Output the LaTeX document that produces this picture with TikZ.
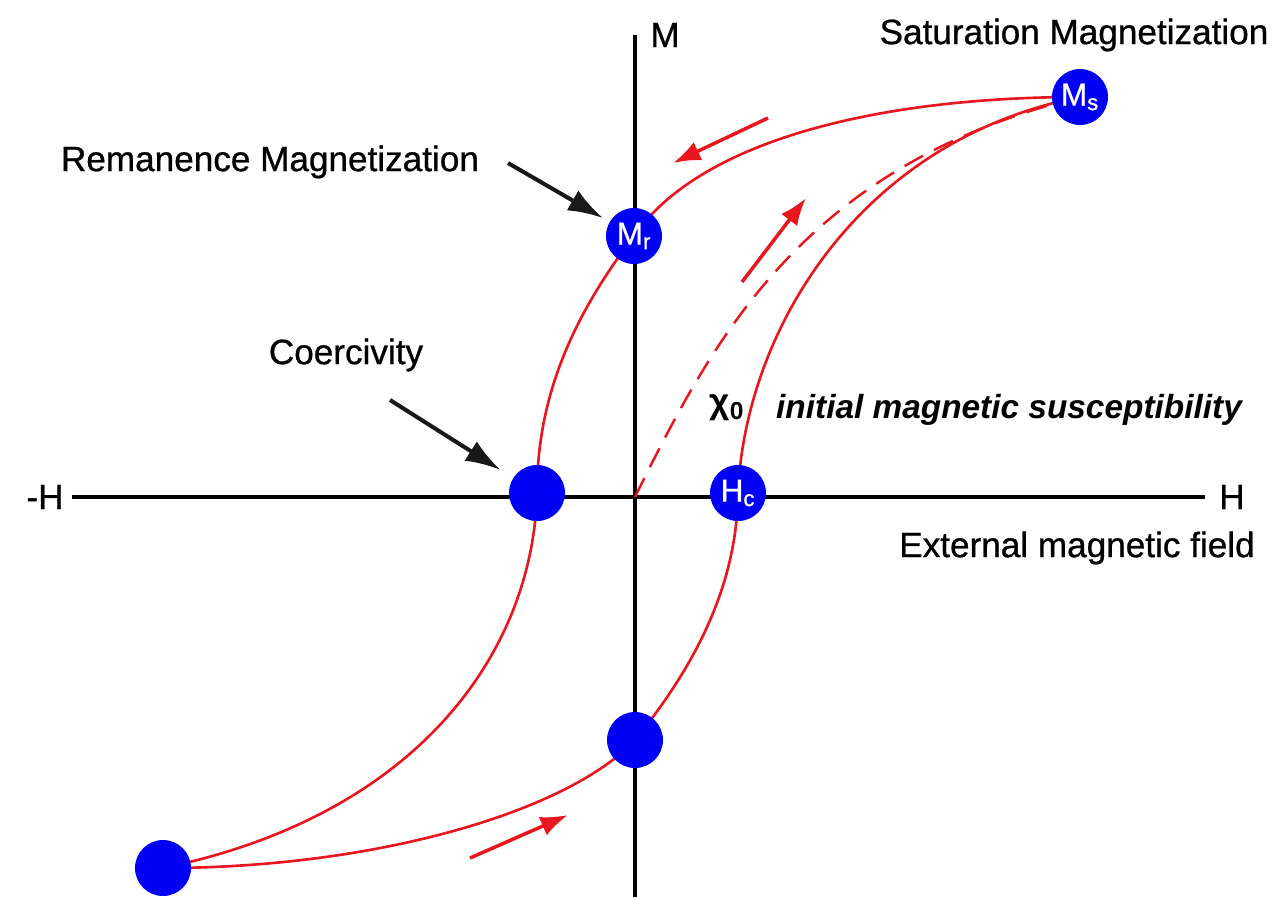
\documentclass[tikz,border=0pt]{standalone}
\usepackage{fontspec}
\setmainfont{Liberation Sans}
\newfontfamily\lblfont[FakeBold=0.8]{Liberation Sans}
\usepackage{tikz}
\usetikzlibrary{arrows.meta,positioning,backgrounds}
\definecolor{hyBlue}{HTML}{0000F5}
\definecolor{hyRed}{HTML}{E8161E}
\tikzset{
  axis/.style={line width=2pt, draw=black},
  loopline/.style={line width=1.5pt, draw=hyRed},
  initline/.style={line width=1.4pt, draw=hyRed, dash pattern=on 12pt off 7pt},
  sweep/.style={-{Latex[length=5.5mm,width=4mm]}, line width=2pt, draw=hyRed},
  pointer/.style={-{Latex[length=7mm,width=4.6mm]}, line width=2.3pt, draw=black!90},
  dot/.style={circle, fill=hyBlue, minimum size=11.2mm, inner sep=0pt, text=white, font=\lblfont\fontsize{18}{20}\selectfont},
  lbl/.style={font=\lblfont\fontsize{20}{24}\selectfont, inner sep=0pt}
}

\begin{document}
\begin{tikzpicture}[x=0.02cm,y=-0.02cm]
  \useasboundingbox (0,0) rectangle (1284,897);
  % axes
  \coordinate (axtop) at (635,35);
  \coordinate (axbot) at (635,897);
  \coordinate (axleft) at (72,497);
  \coordinate (axright) at (1205,497);
  \coordinate (origin) at (635,497);
  % points on the loop
  \node[dot] (Ms) at (1080,97) {M\textsubscript{s}};
  \node[dot] (Mr) at (634,236) {M\textsubscript{r}};
  \node[dot] (Hcneg) at (537,493) {};
  \node[dot] (Hc) at (738,493) {H\textsubscript{c}};
  \node[dot] (Mneg) at (635,740) {};
  \node[dot] (Msneg) at (163,868) {};
  \begin{scope}[on background layer]
    \draw[axis] (axtop) -- (axbot);
    \draw[axis] (axleft) -- (axright);
    \draw[loopline] (Ms.center) .. controls (880,97) and (700,140) .. (Mr.center)
      .. controls (570,320) and (537,400) .. (Hcneg.center)
      .. controls (533,650) and (420,815) .. (Msneg.center);
    \draw[loopline] (Msneg.center) .. controls (380,868) and (570,810) .. (Mneg.center)
      .. controls (700,660) and (737,580) .. (Hc.center)
      .. controls (745,330) and (860,140) .. (Ms.center);
    \draw[initline] (origin) .. controls (715,335) and (805,165) .. (Ms.center);
  \end{scope}
  % labels
  \node[lbl] (Mlbl) at (665,35) {M};
  \node[lbl] (satlbl) at (1074,35) {Saturation Magnetization};
  \node[lbl] (neglbl) at (45,497) {-H};
  \node[lbl] (Hlbl) at (1232,497) {H};
  \node[lbl] (extlbl) at (1077,548) {External magnetic field};
  \node[lbl] (remlbl) at (270,162) {Remanence Magnetization};
  \node[lbl] (coerlbl) at (346,355) {Coercivity};
  \node[lbl, font=\fontsize{20}{24}\selectfont\bfseries] (chilbl) at (727,408) {χ\textsubscript{0}};
  \node[lbl, font=\fontsize{19}{24}\selectfont\bfseries\itshape] (suslbl) at (1009,410) {initial magnetic susceptibility};
  % pointers
  \coordinate (remtail) at (508,163);
  \coordinate (coertail) at (390,400);
  \draw[pointer, shorten >=1.5mm] (remtail) -- (Mr);
  \draw[pointer, shorten >=3mm] (coertail) -- (Hcneg);
  % direction arrows
  \coordinate (swA) at (768,118);
  \coordinate (swB) at (673,163);
  \coordinate (swC) at (742,282);
  \coordinate (swD) at (806,198);
  \coordinate (swE) at (470,858);
  \coordinate (swF) at (568,815);
  \draw[sweep] (swA) -- (swB);
  \draw[sweep] (swC) -- (swD);
  \draw[sweep] (swE) -- (swF);
\end{tikzpicture}
\end{document}
